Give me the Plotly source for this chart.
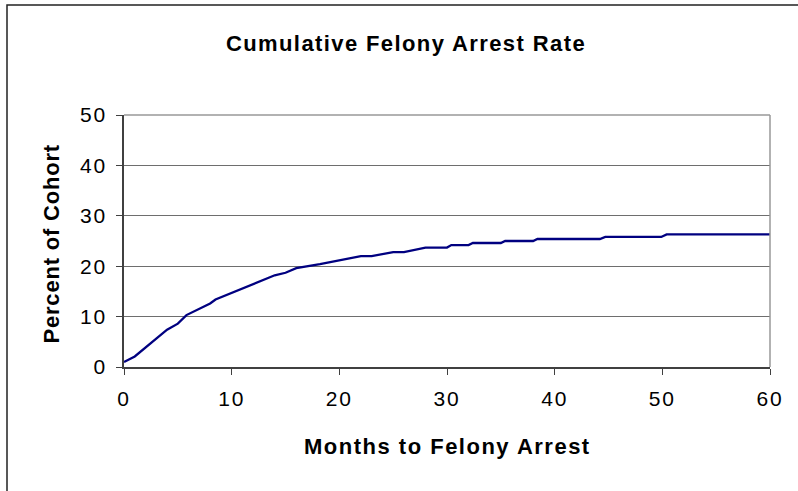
import plotly.graph_objects as go

# Data (month, cumulative %)
months = [0, 1, 4, 5, 5.8, 7, 8, 8.5, 14, 15, 16, 18.2, 20, 22, 23, 25, 26, 28,
          30, 30.4, 32, 32.4, 35, 35.4, 38, 38.4, 44.2, 44.7, 49.9, 50.4, 60]
percent = [1.0, 2.1, 7.4, 8.6, 10.3, 11.6, 12.6, 13.4, 18.2, 18.7, 19.6, 20.4,
           21.2, 22.0, 22.0, 22.8, 22.8, 23.7, 23.7, 24.2, 24.2, 24.6, 24.6,
           25.0, 25.0, 25.4, 25.4, 25.8, 25.8, 26.3, 26.3]

x_ticks = [0, 10, 20, 30, 40, 50, 60]
y_ticks = [0, 10, 20, 30, 40, 50]

title_text = "Cumulative Felony Arrest Rate"
x_title = "Months to Felony Arrest"
y_title = "Percent of Cohort"

FONT = "Liberation Sans, Arial, sans-serif"


def spaced(t, px):
    return f"<span style='letter-spacing:{px}px'>{t}</span>"


W, H = 798, 491
L, R, T, B = 124, 28, 115, 124
pw, ph = W - L - R, H - T - B

fig = go.Figure()
fig.add_trace(go.Scatter(
    x=months, y=percent, mode="lines",
    line=dict(color="#000080", width=2.3),
    showlegend=False, hoverinfo="x+y",
))

fig.update_layout(
    width=W, height=H,
    margin=dict(l=L, r=R, t=T, b=B, pad=0),
    paper_bgcolor="white", plot_bgcolor="white",
    font=dict(family=FONT, size=20, color="black"),
    title=dict(
        text="<b>" + spaced(title_text, 1.4) + "</b>",
        font=dict(family=FONT, size=22, color="black"),
        x=406 / W, xref="container", xanchor="center",
        y=1 - 43 / H, yref="container", yanchor="middle",
    ),
    xaxis=dict(
        range=[0, 60], tickmode="array", tickvals=x_ticks,
        ticktext=[spaced(str(v), 1.8) for v in x_ticks],
        ticks="outside", ticklen=6, tickcolor="#404040", tickwidth=1,
        showgrid=False, zeroline=False,
        showline=True, linecolor="#404040", linewidth=2,
        tickfont=dict(family=FONT, size=21, color="black"),
        ticklabelstandoff=6,
    ),
    yaxis=dict(
        range=[0, 50], tickmode="array", tickvals=y_ticks,
        ticktext=[spaced(str(v), 1.8) for v in y_ticks],
        ticks="outside", ticklen=6, tickcolor="#404040", tickwidth=1,
        showgrid=True, gridcolor="#6e6e6e", gridwidth=1,
        zeroline=False,
        showline=True, linecolor="#404040", linewidth=1.5,
        tickfont=dict(family=FONT, size=21, color="black"),
        ticklabelstandoff=5,
    ),
    shapes=[
        # plot-area frame (top/right in gray)
        dict(type="line", xref="paper", yref="paper", x0=0, x1=1, y0=1, y1=1,
             line=dict(color="#999999", width=1.5)),
        dict(type="line", xref="paper", yref="paper", x0=1, x1=1, y0=0, y1=1,
             line=dict(color="#999999", width=1.5)),
        # outer chart border
        dict(type="rect", xref="paper", yref="paper",
             x0=(7 - L) / pw, x1=(805 - L) / pw,
             y0=(H - B - 498) / ph, y1=(H - B - 5) / ph,
             line=dict(color="#222222", width=1.5), fillcolor="rgba(0,0,0,0)"),
    ],
    annotations=[
        dict(text="<b>" + spaced(x_title, 1.5) + "</b>", showarrow=False,
             xref="paper", yref="paper", x=0.5, y=(H - B - 446) / ph,
             xanchor="center", yanchor="middle",
             font=dict(family=FONT, size=22, color="black")),
        dict(text="<b>" + spaced(y_title, 0.8) + "</b>", showarrow=False,
             xref="paper", yref="paper", x=(50.5 - L) / pw, y=(H - B - 244) / ph,
             xanchor="center", yanchor="middle", textangle=-90,
             font=dict(family=FONT, size=22, color="black")),
    ],
)

fig.write_html("out.html")
